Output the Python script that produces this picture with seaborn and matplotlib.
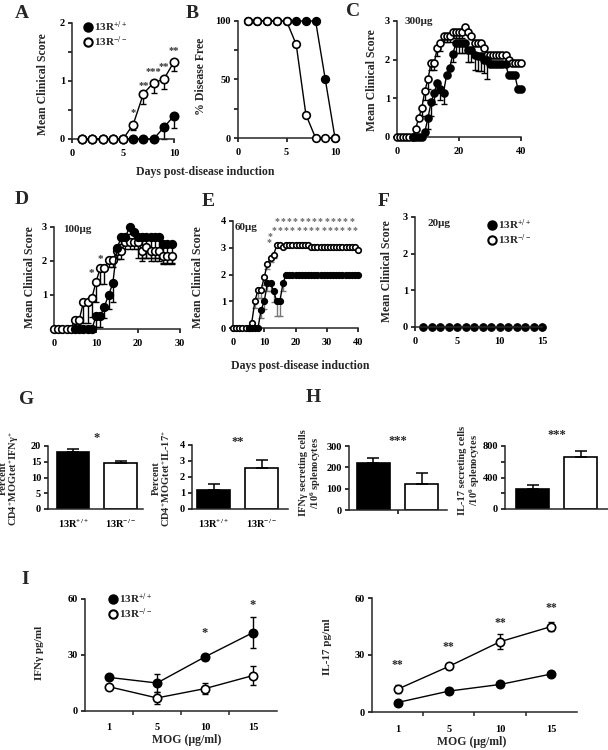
import numpy as np
import matplotlib
matplotlib.use('Agg')
import matplotlib.pyplot as plt
from matplotlib.lines import Line2D
import seaborn as sns

# ---- data ----
a_days = [1, 2, 3, 4, 5, 6, 7, 8, 9, 10]
a_wt = [0, 0, 0, 0, 0, 0, 0, 0, 0.2, 0.4]
a_wt_err = [0, 0, 0, 0, 0, 0, 0, 0, 0.2, 0.21]
a_ko = [0, 0, 0, 0, 0, 0.25, 0.78, 0.97, 1.03, 1.33]
a_ko_err = [0, 0, 0, 0, 0, 0.1, 0.17, 0.18, 0.16, 0.16]
a_stars = ['*', '**', '***', '**', '**']
a_star_days = [6, 7, 8, 9, 10]
a_star_y = [0.45, 0.93, 1.16, 1.25, 1.52]

b_days = [1, 2, 3, 4, 5, 6, 7, 8, 9, 10]
b_wt = [100, 100, 100, 100, 100, 100, 100, 100, 50, 0]
b_ko = [100, 100, 100, 100, 100, 80, 20, 0, 0, 0]

c_ko_days = list(range(0, 41))
c_ko = [0, 0, 0, 0, 0, 0, 0.2, 0.5, 0.75, 1.2, 1.5, 1.92, 1.92, 2.3, 2.42, 2.6, 2.6, 2.6,
        2.72, 2.72, 2.72, 2.72, 2.84, 2.72, 2.6, 2.42, 2.42, 2.42, 2.3, 2.12, 2.12, 2.12,
        2.12, 2.12, 2.12, 2.12, 2.0, 1.92, 1.92, 1.92, 1.92]
c_ko_err = [0, 0, 0, 0, 0, 0, 0, 0, 0.2, 0.25, 0.25, 0.2, 0.2, 0.2, 0.2, 0.15, 0.15, 0.15,
            0.15, 0.15, 0.15, 0.15, 0, 0, 0, 0, 0, 0, 0, 0, 0, 0, 0, 0, 0, 0, 0, 0, 0, 0, 0]
c_wt_days = list(range(5, 41))
c_wt = [0, 0, 0, 0, 0.14, 0.5, 0.9, 1.15, 1.4, 1.25, 1.15, 1.6, 1.78, 2.15, 2.42, 2.42,
        2.42, 2.42, 2.25, 2.25, 2.12, 2.1, 2.1, 2.0, 2.0, 1.9, 1.9, 1.9, 1.9, 1.9, 1.9,
        1.6, 1.6, 1.6, 1.25, 1.25]
c_wt_err = [0, 0, 0, 0, 0.1, 0.3, 0.35, 0.3, 0.25, 0.3, 0.3, 0, 0, 0.2, 0.25, 0.25, 0.25,
            0.25, 0.3, 0.3, 0.4, 0.4, 0.4, 0.35, 0.5, 0, 0, 0, 0, 0, 0, 0, 0, 0, 0, 0]

d_ko_days = list(range(0, 29))
d_ko = [0, 0, 0, 0, 0, 0.27, 0.27, 0.78, 0.78, 0.9, 1.39, 1.78, 1.78, 2.02, 2.02, 2.3, 2.3,
        2.55, 2.55, 2.55, 2.55, 2.3, 2.4, 2.3, 2.3, 2.3, 2.15, 2.15, 2.15]
d_ko_err = [0, 0, 0, 0, 0, 0, 0, 0.6, 0.6, 0.55, 0.6, 0.45, 0.45, 0.2, 0.2, 0.25, 0.25, 0.2,
            0.2, 0.2, 0.2, 0.3, 0.3, 0.3, 0.3, 0.3, 0.25, 0.25, 0.25]
d_wt_days = list(range(5, 29))
d_wt = [0, 0, 0, 0, 0, 0.37, 0.37, 0.66, 1.0, 1.34, 2.37, 2.7, 2.7, 3.0, 2.85, 2.7, 2.7,
        2.7, 2.7, 2.7, 2.7, 2.5, 2.5, 2.5]
d_wt_err = [0, 0, 0, 0, 0, 0.3, 0.3, 0.35, 0.4, 0.55, 0.3, 0.2, 0.2, 0.2, 0.3, 0.6, 0.6,
            0.6, 0.6, 0.6, 0.6, 0.55, 0.55, 0.55]
d_star_days = [9, 11]
d_star_y = [1.64, 2.05]

e_ko_days = list(range(0, 41))
e_ko = [0, 0, 0, 0, 0, 0, 0.2, 1.0, 1.43, 1.43, 1.9, 2.4, 2.6, 2.73, 3.1, 3.1, 3.02, 3.1,
        3.1, 3.1, 3.1, 3.1, 3.1, 3.1, 3.1, 3.02, 3.02, 3.02, 3.02, 3.02, 3.02, 3.02, 3.02,
        3.02, 3.02, 3.02, 3.02, 3.02, 3.02, 3.02, 2.92]
e_ko_err = [0, 0, 0, 0, 0, 0, 0, 0.25, 0.3, 0.3, 0.3, 0.2, 0.15, 0.1, 0, 0, 0, 0, 0, 0, 0,
            0, 0, 0, 0, 0, 0, 0, 0, 0, 0, 0, 0, 0, 0, 0, 0, 0, 0, 0, 0]
e_wt_days = list(range(5, 41))
e_wt = [0, 0, 0, 0, 0.68, 1.0, 1.68, 1.68, 1.37, 1.0, 1.0, 1.68, 2.0, 2.0, 2.0, 2.0, 2.0,
        2.0, 2.0, 2.0, 2.0, 2.0, 2.0, 2.0, 2.0, 2.0, 2.0, 2.0, 2.0, 2.0, 2.0, 2.0, 2.0, 2.0,
        2.0, 2.0]
e_wt_err = [0, 0, 0, 0, 0.3, 0.3, 0.3, 0.3, 0.4, 0.55, 0.55, 0.3, 0, 0, 0, 0, 0, 0, 0, 0,
            0, 0, 0, 0, 0, 0, 0, 0, 0, 0, 0, 0, 0, 0, 0, 0]
e_row1_days = [14, 16, 18, 20, 22, 24, 26, 28, 30, 32, 34, 36, 38]
e_row2_days = [13, 15, 17, 19, 21, 23, 25, 27, 29, 31, 33, 35, 37, 39]

f_days = [1, 2, 3, 4, 5, 6, 7, 8, 9, 10, 11, 12, 13, 14, 15]
f_wt = [0, 0, 0, 0, 0, 0, 0, 0, 0, 0, 0, 0, 0, 0, 0]

groups = ['13R$^{+/+}$', '13R$^{-/-}$']
g_ifn = [18, 14.7]
g_ifn_err = [1.1, 0.6]
g_il17 = [1.2, 2.55]
g_il17_err = [0.35, 0.5]
h_ifn = [220, 120]
h_ifn_err = [25, 55]
h_il17 = [250, 660]
h_il17_err = [50, 80]

mog = ['1', '5', '10', '15']
i_ifn_wt = [18, 15, 29, 42]
i_ifn_wt_err = [1, 5, 1.5, 8.5]
i_ifn_ko = [13, 7, 12, 19]
i_ifn_ko_err = [1, 3, 3, 5]
i_il17_wt = [5, 11, 14.5, 20]
i_il17_wt_err = [0.5, 1.5, 1, 0.8]
i_il17_ko = [12, 24, 37, 45]
i_il17_ko_err = [2, 1.5, 4, 2.5]

# ---- style ----
sns.set_style('ticks')
plt.rcParams['font.family'] = ['Liberation Serif', 'DejaVu Serif']
plt.rcParams['font.weight'] = 'bold'
plt.rcParams['mathtext.fontset'] = 'custom'
plt.rcParams['mathtext.rm'] = 'Liberation Serif:bold'
plt.rcParams['mathtext.it'] = 'Liberation Serif:italic:bold'
plt.rcParams['mathtext.bf'] = 'Liberation Serif:bold'
plt.rcParams['axes.linewidth'] = 1.1
plt.rcParams['xtick.labelsize'] = 7.5
plt.rcParams['ytick.labelsize'] = 7.5

W, H = 608, 750
fig = plt.figure(figsize=(6.08, 7.5), dpi=100)


def add_ax(l, t, r, b):
    ax = fig.add_axes([l / W, 1 - b / H, (r - l) / W, (b - t) / H])
    sns.despine(ax=ax)
    ax.tick_params(direction='out', length=3, width=1.1, pad=2, colors='black')
    ax.tick_params(axis='x', pad=4)
    return ax


def ftext(x, y, s, **kw):
    kw.setdefault('ha', 'center')
    kw.setdefault('va', 'center')
    kw.setdefault('fontweight', 'bold')
    fig.text(x / W, 1 - y / H, s, **kw)


def series(ax, x, y, err, filled, ms, ecolor='black', sym=False, z=3):
    x = np.asarray(x, float)
    y = np.asarray(y, float)
    err = np.asarray(err, float)
    m = err > 0
    if m.any():
        up = err[m] if sym else np.zeros(m.sum())
        ax.errorbar(x[m], y[m], yerr=[err[m], up], fmt='none', ecolor=ecolor,
                    elinewidth=1, capsize=2, capthick=1, zorder=2, clip_on=False)
    sns.lineplot(x=x, y=y, ax=ax, color='black', lw=1, marker='o', markersize=ms,
                 markerfacecolor='black' if filled else 'white', markeredgecolor='black',
                 markeredgewidth=1.2, clip_on=False, errorbar=None, zorder=z)


def bars(ax, vals, errs, lo, hi):
    sns.barplot(x=groups, y=vals, hue=groups, palette=['black', 'white'], edgecolor='black',
                linewidth=1.2, width=0.68, legend=False, ax=ax)
    ax.errorbar([0, 1], vals, yerr=[[0, 0], errs], fmt='none', ecolor='black',
                elinewidth=1.1, capsize=4.5, capthick=1.1)
    ax.set_xlim(lo, hi)
    ax.set_xlabel('')
    ax.set_ylabel('')


def legend(ax, x, y, fs=8, ms=6):
    hs = [Line2D([], [], marker='o', ls='', color='black', markersize=ms, markeredgewidth=1.5,
                 markerfacecolor=fc) for fc in ['black', 'white']]
    ax.legend(hs, groups, loc='upper left', bbox_to_anchor=(x, y), frameon=False,
              handletextpad=0.1, labelspacing=0.05, handlelength=1, borderpad=0,
              fontsize=fs, borderaxespad=0)


# ---- A ----
ax = add_ax(72, 23, 174, 139)
series(ax, a_days, a_wt, a_wt_err, True, 6, z=3)
series(ax, a_days, a_ko, a_ko_err, False, 6, z=4)
for d, yv, s in zip(a_star_days, a_star_y, a_stars):
    ax.text(d, yv, s, ha='center', va='center', fontsize=7.5, color='#333333')
ax.set_xlim(0, 10)
ax.set_ylim(0, 2)
ax.set_xticks([0, 5, 10])
ax.set_yticks([0, 0.5, 1, 1.5, 2])
ax.set_yticklabels(['0', '', '1', '', '2'])
legend(ax, 0.1, 1.03)
ftext(43, 84, 'Mean Clinical Score', rotation=90, fontsize=8.5)

# ---- B ----
ax = add_ax(238, 21, 335, 138)
series(ax, b_days, b_wt, [0] * 10, True, 5.5, z=3)
series(ax, b_days, b_ko, [0] * 10, False, 5.5, z=4)
ax.set_xlim(0, 10)
ax.set_ylim(0, 100)
ax.set_xticks([0, 5, 10])
ax.set_yticks([0, 25, 50, 75, 100])
ax.set_yticklabels(['0', '', '50', '', '100'])
ftext(201, 76, '% Disease Free', rotation=90, fontsize=8.5)
ftext(205, 172, 'Days post-disease induction', fontsize=8.5)

# ---- C ----
ax = add_ax(397, 21, 521, 137)
series(ax, c_ko_days, c_ko, c_ko_err, False, 5, z=3)
series(ax, c_wt_days, c_wt, c_wt_err, True, 5, z=4)
ax.set_xlim(0, 40)
ax.set_ylim(0, 3)
ax.set_xticks([0, 20, 40])
ax.set_yticks([0, 1, 2, 3])
ftext(405, 21, '300μg', ha='left', fontsize=8)
ftext(372, 80, 'Mean Clinical Score', rotation=90, fontsize=8.5)

# ---- D ----
ax = add_ax(54, 227, 180, 329)
series(ax, d_ko_days, d_ko, d_ko_err, False, 5.5, z=3)
series(ax, d_wt_days, d_wt, d_wt_err, True, 5.5, z=4)
for d, yv in zip(d_star_days, d_star_y):
    ax.text(d, yv, '*', ha='center', va='center', fontsize=8, color='#333333')
ax.set_xlim(0, 30)
ax.set_ylim(0, 3)
ax.set_xticks([0, 10, 20, 30])
ax.set_yticks([1, 2, 3])
ftext(63, 230, '100μg', ha='left', fontsize=8)
ftext(30, 277, 'Mean Clinical Score', rotation=90, fontsize=8.5)

# ---- E ----
ax = add_ax(233, 221, 358, 328)
series(ax, e_ko_days, e_ko, e_ko_err, False, 4, ecolor='#777777', z=3)
series(ax, e_wt_days, e_wt, e_wt_err, True, 4, ecolor='#777777', z=4)
for d in e_row1_days:
    ax.text(d, 3.98, '*', ha='center', va='center', fontsize=7, color='#666666')
for d in e_row2_days:
    ax.text(d, 3.64, '*', ha='center', va='center', fontsize=7, color='#666666')
ax.text(11.4, 3.2, '*', ha='center', va='center', fontsize=7, color='#666666')
ax.text(12.0, 3.42, '*', ha='center', va='center', fontsize=7, color='#666666')
ax.set_xlim(0, 40)
ax.set_ylim(0, 4)
ax.set_xticks([0, 10, 20, 30, 40])
ax.set_yticks([0, 1, 2, 3, 4])
ftext(235, 227, '60μg', ha='left', fontsize=8)
ftext(198, 277, 'Mean Clinical Score', rotation=90, fontsize=8.5)
ftext(300, 366, 'Days post-disease induction', fontsize=8.5)

# ---- F ----
ax = add_ax(415, 217, 542, 327)
sns.lineplot(x=f_days, y=f_wt, ax=ax, color='black', lw=1, marker='o', markersize=5.5,
             markerfacecolor='black', markeredgecolor='black', clip_on=False, errorbar=None)
ax.errorbar(f_days, f_wt, yerr=0.06, fmt='none', ecolor='black', elinewidth=1, clip_on=False)
ax.set_xlim(0, 15)
ax.set_ylim(0, 3)
ax.set_xticks([0, 5, 10, 15])
ax.set_yticks([0, 1, 2, 3])
legend(ax, 0.56, 1.0)
ftext(428, 223, '20μg', ha='left', fontsize=8)
ftext(387, 271, 'Mean Clinical Score', rotation=90, fontsize=8.5)

# ---- G ----
ax = add_ax(48, 446, 143, 509)
bars(ax, g_ifn, g_ifn_err, -0.526, 1.47)
ax.set_ylim(0, 20)
ax.set_yticks([0, 5, 10, 15, 20])
ax.tick_params(axis='x', length=0, pad=6)
ax.text(0.5, 22.5, '*', ha='center', va='center', fontsize=9, clip_on=False)
ftext(10, 478, 'Percent\nCD4$^{+}$MOGtet$^{+}$IFNγ$^{+}$', rotation=90, fontsize=7.5,
      linespacing=1.0)

ax = add_ax(192, 445, 288, 509)
bars(ax, g_il17, g_il17_err, -0.45, 1.55)
ax.set_ylim(0, 4)
ax.set_yticks([0, 1, 2, 3, 4])
ax.tick_params(axis='x', length=0, pad=6)
ax.text(0.5, 4.2, '**', ha='center', va='center', fontsize=9, clip_on=False)
ftext(162, 478, 'Percent\nCD4$^{+}$MOGtet$^{+}$IL-17$^{+}$', rotation=90, fontsize=7.5,
      linespacing=1.0)

# ---- H ----
ax = add_ax(349, 446, 447, 510)
bars(ax, h_ifn, h_ifn_err, -0.505, 1.516)
ax.set_ylim(0, 300)
ax.set_yticks([0, 100, 200, 300])
ax.set_xticks([0.5])
ax.set_xticklabels([''])
ax.text(0.5, 322, '***', ha='center', va='center', fontsize=9, clip_on=False)
ftext(311, 473, 'IFNγ secreting cells\n/10$^{6}$ splenocytes', rotation=90, fontsize=7.5,
      linespacing=1.0)

ax = add_ax(505, 446, 608, 509)
bars(ax, h_il17, h_il17_err, -0.58, 1.57)
ax.set_ylim(0, 800)
ax.set_yticks([0, 200, 400, 600, 800])
ax.set_yticklabels(['0', '', '400', '', '800'])
ax.set_xticks([])
ax.text(0.5, 935, '***', ha='center', va='center', fontsize=9, clip_on=False)
ftext(470, 470, 'IL-17 secreting cells\n/10$^{6}$ splenocytes', rotation=90, fontsize=7.5,
      linespacing=1.0)

# ---- I ----
pos = [0, 1, 2, 3]
ax = add_ax(85, 599, 277, 711)
series(ax, pos, i_ifn_wt, i_ifn_wt_err, True, 6, sym=True)
series(ax, pos, i_ifn_ko, i_ifn_ko_err, False, 6, sym=True)
ax.text(2, 42, '*', ha='center', va='center', fontsize=9)
ax.text(3, 57, '*', ha='center', va='center', fontsize=9, clip_on=False)
legend(ax, 0.115, 1.07)

ax2 = add_ax(372, 598, 577, 712)
series(ax2, pos, i_il17_wt, i_il17_wt_err, True, 6, sym=True)
series(ax2, pos, i_il17_ko, i_il17_ko_err, False, 6, sym=True)
for p, yv in zip(pos, [24.7, 34, 47, 55]):
    ax2.text(p, yv, '**', ha='center', va='center', fontsize=8.5)

for a in (ax, ax2):
    a.set_xlim(-0.5, 3.5)
    a.set_ylim(0, 60)
    a.set_yticks([0, 30, 60])
    a.set_xticks(pos)
    a.set_xticklabels(mog)
    a.set_xticks([0.5, 1.5, 2.5], minor=True)
    a.tick_params(axis='x', which='major', length=0, pad=9)
    a.tick_params(axis='x', which='minor', length=3, width=1.1, direction='out')
    a.set_xlabel('')
    a.set_ylabel('')

ftext(40, 653, 'IFNγ pg/ml', rotation=90, fontsize=8)
ftext(327, 647, 'IL-17 pg/ml', rotation=90, fontsize=8)
ftext(187, 740, 'MOG (μg/ml)', fontsize=8.5)
ftext(472, 742, 'MOG (μg/ml)', fontsize=8.5)

# ---- panel letters ----
for s, x, y in [('A', 22, 13), ('B', 192, 13), ('C', 353, 11), ('D', 22, 200),
                ('E', 208, 202), ('F', 384, 201), ('G', 27, 400), ('H', 313, 398),
                ('I', 25, 580)]:
    ftext(x, y, s, fontsize=14)

fig.savefig('out.png', dpi=100)
